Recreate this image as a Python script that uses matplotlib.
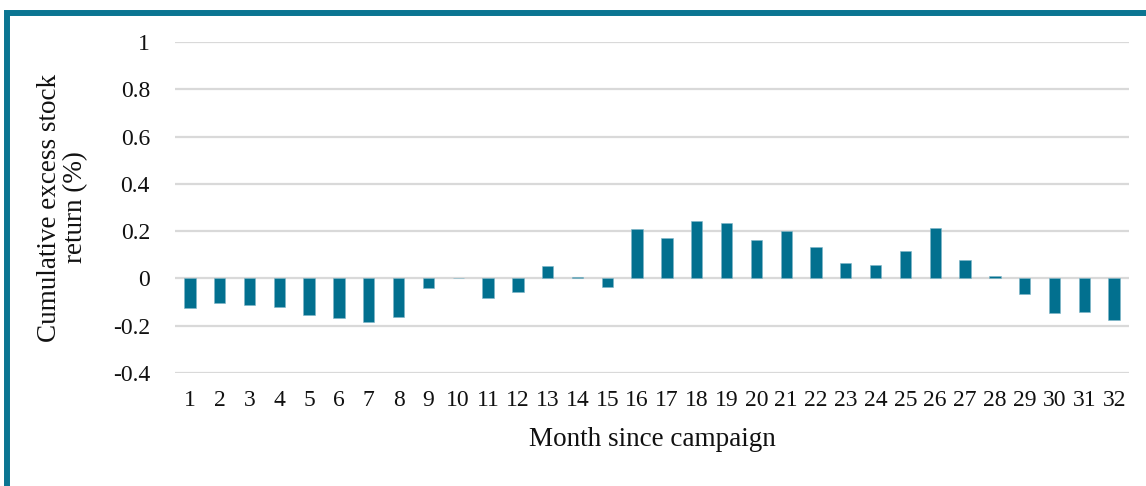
import matplotlib
matplotlib.use('Agg')
import matplotlib.pyplot as plt
from matplotlib.patches import Rectangle

# months since campaign and cumulative excess return (%)
months = list(range(1, 33))
returns = [-0.123, -0.106, -0.114, -0.120, -0.155, -0.167, -0.185, -0.164,
           -0.041, 0.0, -0.082, -0.057, 0.053, 0.004, -0.035, 0.210,
           0.172, 0.241, 0.233, 0.161, 0.199, 0.134, 0.066, 0.058,
           0.118, 0.214, 0.077, 0.009, -0.066, -0.145, -0.140, -0.175]
y_ticks = [-0.4, -0.2, 0, 0.2, 0.4, 0.6, 0.8, 1]
y_ticklabels = ['-0.4', '-0.2', '0', '0.2', '0.4', '0.6', '0.8', '1']

BAR = '#02708f'
FRAME = '#0b7592'

plt.rcParams['font.family'] = ['Liberation Serif', 'DejaVu Serif']

fig = plt.figure(figsize=(11.46, 4.86), dpi=100)
ax = fig.add_axes([0.1527, 0.2325, 0.8325, 0.6811])

ax.bar(months, returns, width=0.38, color=BAR, edgecolor='#7fb6c8', linewidth=0.4, zorder=3)

ax.set_xlim(0.5, 32.5)
ax.set_ylim(-0.4, 1)
ax.set_yticks(y_ticks)
ax.set_yticklabels(y_ticklabels)
ax.set_xticks(months)
ax.set_xticklabels([str(m) for m in months])
ax.tick_params(axis='both', length=0, labelsize=17, colors='#111111')
ax.tick_params(axis='x', pad=12)
ax.tick_params(axis='y', pad=18)
ax.grid(axis='y', color='#d9d9d9', linewidth=1.6, zorder=0)
ax.set_axisbelow(True)
for s in ax.spines.values():
    s.set_visible(False)

ax.set_xlabel('Month since campaign', fontsize=19.5, labelpad=12, color='#111111')
ax.set_ylabel('Cumulative excess stock\nreturn (%)', fontsize=19.5, labelpad=18,
              color='#111111', linespacing=1.05)

# teal frame at top and left edge
frame = Rectangle((7 / 1146, -0.2), 1.2, 1 - 13 / 486 + 0.2, transform=fig.transFigure,
                  fill=False, edgecolor=FRAME, linewidth=4.3)
fig.add_artist(frame)

fig.savefig('out.png', dpi=100, facecolor='white')
